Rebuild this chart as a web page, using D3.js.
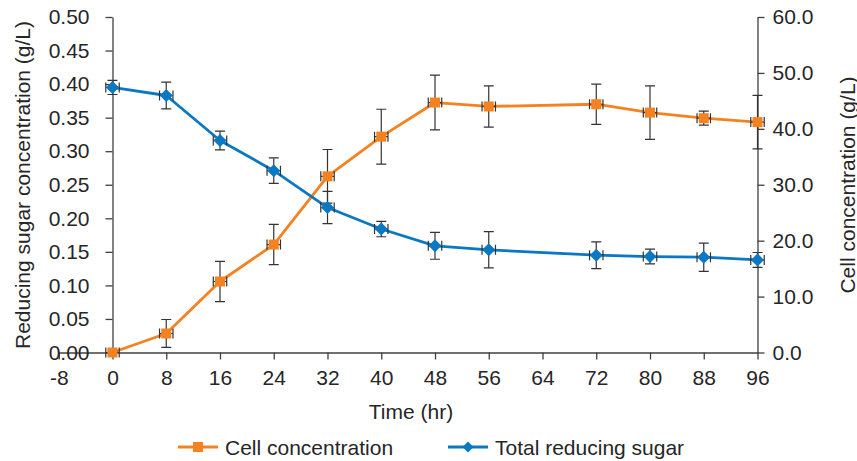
<!DOCTYPE html>
<html><head><meta charset="utf-8">
<script src="https://cdn.jsdelivr.net/npm/d3@7/dist/d3.min.js"></script>
<style>
html,body{margin:0;padding:0;background:#fff;}
svg text{font-family:"Liberation Sans",Arial,sans-serif;fill:#262626;}
</style></head>
<body>
<svg id="chart" width="857" height="461"></svg>
<script>
const times = [0, 8, 16, 24, 32, 40, 48, 56, 72, 80, 88, 96];
const cellConc = [0, 3.4, 12.7, 19.3, 31.5, 38.6, 44.7, 44.0, 44.4, 42.9, 41.9, 41.2];
const cellErr = [0.3, 2.5, 3.6, 3.6, 4.8, 4.9, 4.9, 3.7, 3.6, 4.8, 1.25, 4.8];
const sugar = [0.395, 0.383, 0.316, 0.271, 0.216, 0.184, 0.159, 0.153, 0.145, 0.143, 0.142, 0.138];
const sugarErr = [0.0105, 0.02, 0.014, 0.019, 0.024, 0.0115, 0.02, 0.027, 0.02, 0.011, 0.021, 0.011];
const timeErr = 1;
const xTicks = [-8, 0, 8, 16, 24, 32, 40, 48, 56, 64, 72, 80, 88, 96];
const leftTicks = [0, 0.05, 0.1, 0.15, 0.2, 0.25, 0.3, 0.35, 0.4, 0.45, 0.5];
const rightTicks = [0, 10, 20, 30, 40, 50, 60];
const seriesNames = ["Cell concentration", "Total reducing sugar"];

const orange = "#F58220", blue = "#0A78C2", axisCol = "#404040";
const svg = d3.select("#chart");
const x = d3.scaleLinear().domain([-8, 96]).range([58.75, 757.5]);
const yL = d3.scaleLinear().domain([0, 0.5]).range([352.5, 17]);
const yR = d3.scaleLinear().domain([0, 60]).range([352.5, 17]);

function styleAxis(g){
  g.selectAll("path,line").attr("stroke", axisCol).attr("stroke-width", 1.3);
  g.selectAll("text").style("font-size", "21px").attr("fill", "#262626");
}
svg.append("g").attr("transform", `translate(0,${yL(0)})`)
  .call(d3.axisBottom(x).tickValues(xTicks).tickSize(7).tickSizeOuter(0).tickPadding(11).tickFormat(d => String(d)))
  .call(styleAxis);
svg.append("g").attr("transform", `translate(${x(0)},0)`)
  .call(d3.axisLeft(yL).tickValues(leftTicks).tickSize(7).tickSizeOuter(0).tickPadding(16).tickFormat(d3.format(".2f")))
  .call(styleAxis);
svg.append("g").attr("transform", `translate(${x(96)},0)`)
  .call(d3.axisRight(yR).tickValues(rightTicks).tickSize(7).tickSizeOuter(0).tickPadding(8).tickFormat(d3.format(".1f")))
  .call(styleAxis);

// titles
svg.append("text").attr("x", 411).attr("y", 411).attr("text-anchor", "middle").attr("dominant-baseline", "central")
  .style("font-size", "21px").text("Time (hr)");
svg.append("text").attr("transform", "translate(22,185) rotate(-90)").attr("text-anchor", "middle").attr("dominant-baseline", "central")
  .style("font-size", "21px").text("Reducing sugar concentration (g/L)");
svg.append("text").attr("transform", "translate(847,185) rotate(-90)").attr("text-anchor", "middle").attr("dominant-baseline", "central")
  .style("font-size", "21px").text("Cell concentration (g/L)");

function drawSeries(vals, errs, yS, color, shape){
  const pts = times.map((t, i) => ({t, v: vals[i], e: errs[i]}));
  const g = svg.append("g");
  g.append("path").datum(pts).attr("fill", "none").attr("stroke", color).attr("stroke-width", 2.8)
    .attr("stroke-linejoin", "round")
    .attr("d", d3.line().x(d => x(d.t)).y(d => yS(d.v)));
  const eb = g.append("g").attr("stroke", "#333").attr("stroke-width", 1.2).attr("fill", "none");
  pts.forEach(d => {
    const cx = x(d.t), cy = yS(d.v), y1 = yS(d.v + d.e), y2 = yS(Math.max(0, d.v - d.e));
    const xa = x(d.t - timeErr), xb = x(d.t + timeErr);
    eb.append("path").attr("d",
      `M${cx},${y1}V${y2}M${cx-5},${y1}H${cx+5}M${cx-5},${y2}H${cx+5}` +
      `M${xa},${cy}H${xb}M${xa},${cy-5}V${cy+5}M${xb},${cy-5}V${cy+5}`);
  });
  g.selectAll(".m").data(pts).enter().append("path")
    .attr("transform", d => `translate(${x(d.t)},${yS(d.v)})` + (shape === "square" ? "" : " rotate(45)"))
    .attr("d", d3.symbol(d3.symbolSquare, shape === "square" ? 100 : 85)())
    .attr("fill", color);
}
drawSeries(cellConc, cellErr, yR, orange, "square");
drawSeries(sugar, sugarErr, yL, blue, "diamond");

// legend
const leg = [
  {name: seriesNames[0], color: orange, x0: 178, shape: "square"},
  {name: seriesNames[1], color: blue, x0: 448, shape: "diamond"}
];
leg.forEach(l => {
  const g = svg.append("g");
  g.append("line").attr("x1", l.x0).attr("x2", l.x0 + 40).attr("y1", 447).attr("y2", 447)
    .attr("stroke", l.color).attr("stroke-width", 2.8);
  g.append("path").attr("transform", `translate(${l.x0 + 20},447)` + (l.shape === "square" ? "" : " rotate(45)"))
    .attr("d", d3.symbol(d3.symbolSquare, l.shape === "square" ? 100 : 60)()).attr("fill", l.color);
  g.append("text").attr("x", l.x0 + 47).attr("y", 447).attr("dominant-baseline", "central")
    .style("font-size", "21px").text(l.name);
});
</script>
</body></html>
